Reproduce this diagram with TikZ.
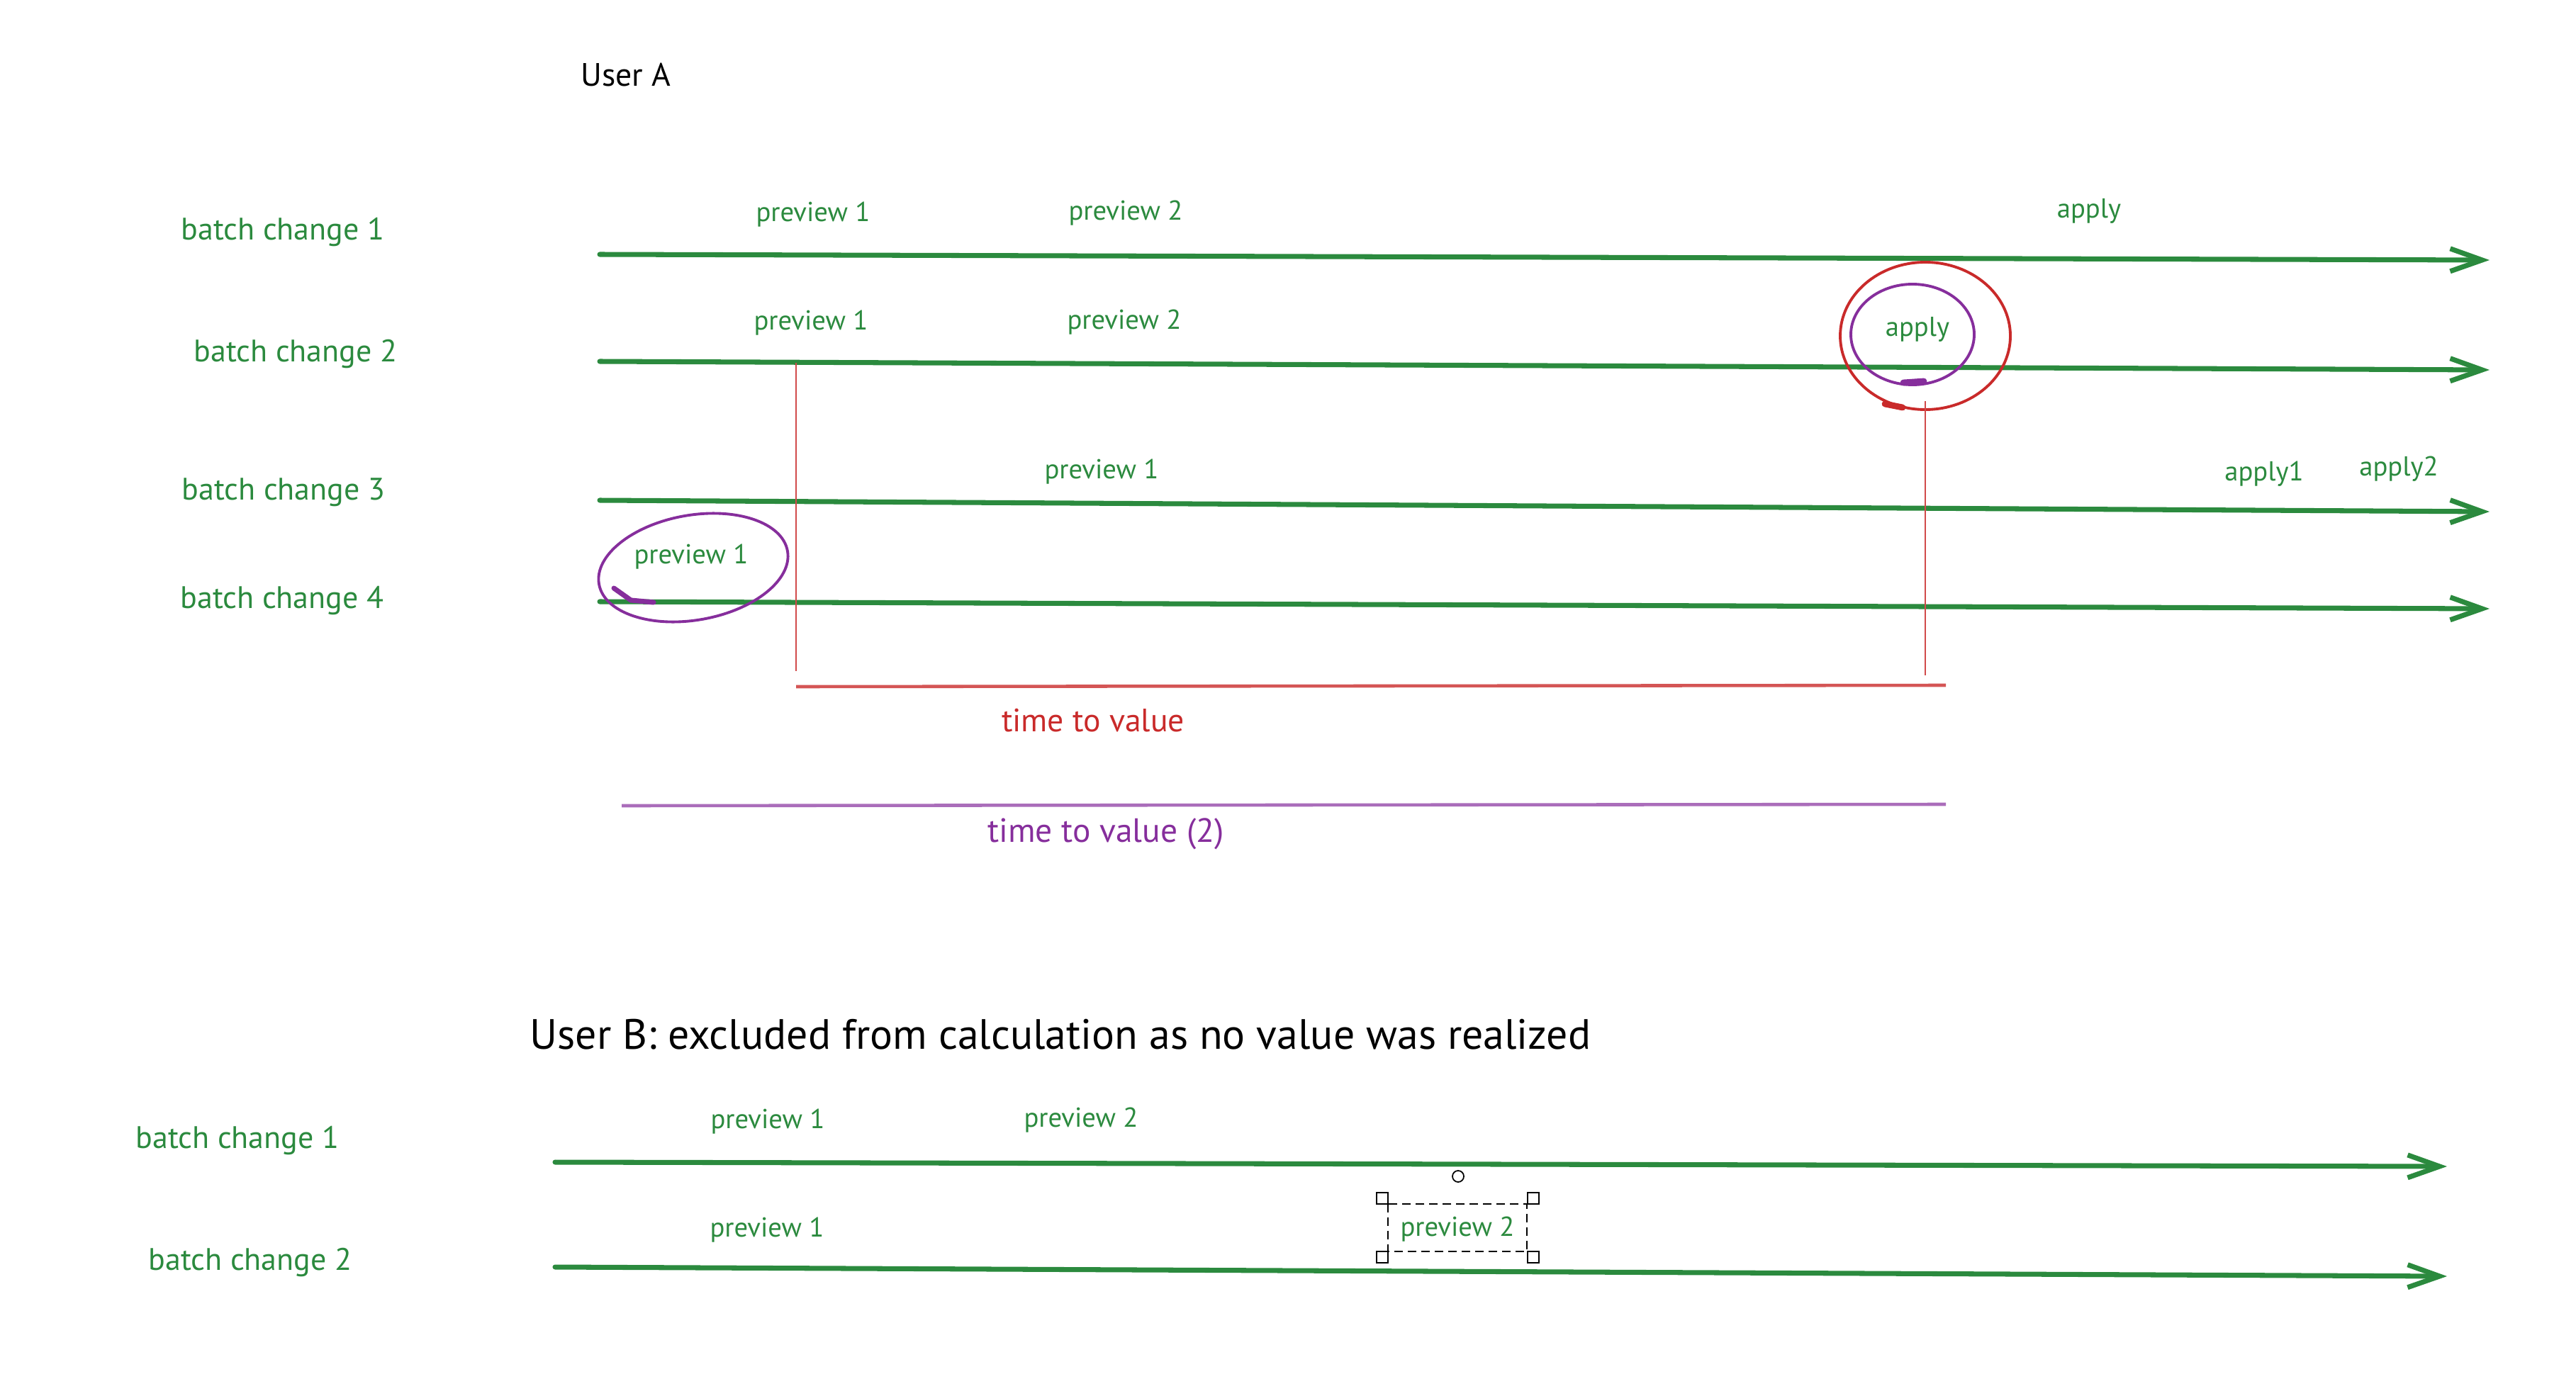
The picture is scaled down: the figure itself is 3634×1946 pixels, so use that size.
\documentclass[tikz,border=0pt]{standalone}
\usepackage{fontspec}
\setmainfont{PT Sans}
\usetikzlibrary{positioning, arrows.meta}
\definecolor{lanegreen}{HTML}{2B8A3E}
\definecolor{valred}{HTML}{C92A2A}
\definecolor{valpurple}{HTML}{862E9C}

\begin{document}
\begin{tikzpicture}[x=0.01cm, y=-0.01cm,
  lane/.style={draw=lanegreen, line width=2pt, line cap=round, -{Straight Barb[length=4.5mm, width=3.2mm]}},
  lanelabel/.style={text=lanegreen, font=\fontsize{12.5}{14}\selectfont},
  eventlabel/.style={text=lanegreen, font=\fontsize{11}{13}\selectfont},
  userlabel/.style={text=black, font=\fontsize{13}{15}\selectfont},
  ring/.style={line width=1.1pt},
  handle/.style={draw=black, fill=white, line width=0.5pt}]
  \useasboundingbox (0,0) rectangle (3634,1946);

  \node [userlabel] (userA) at (883,106) {User A};

  % user A lanes
  \foreach \n/\lx/\ly/\ys/\ye in {1/399/328/359/367, 2/417/500/510/522, 3/400/695/706/722, 4/398/848/849/859}
    {\node [lanelabel] (a\n) at (\lx,\ly) {batch change \n};
     \coordinate (a\n s) at (846,\ys);
     \coordinate (a\n e) at (3512,\ye);
     \draw [lane] (a\n s) -- (a\n e);}

  \node [eventlabel] (a1p1) at (1147,303) {preview 1};
  \node [eventlabel] (a1p2) at (1588,301) {preview 2};
  \node [eventlabel] (a1ap) at (2947,298) {apply};
  \node [eventlabel] (a2p1) at (1144,456) {preview 1};
  \node [eventlabel] (a2p2) at (1586,455) {preview 2};
  \node [eventlabel] (a2ap) at (2705,465) {apply};
  \node [eventlabel] (a3p1) at (1554,666) {preview 1};
  \node [eventlabel] (a3ap1) at (3194,669) {apply1};
  \node [eventlabel] (a3ap2) at (3384,662) {apply2};
  \node [eventlabel] (a4p1) at (975,786) {preview 1};

  % circles
  \draw [ring, valpurple] (978,801) ellipse [x radius=135, y radius=74, rotate=10];
  \draw [valpurple, line width=2pt, line cap=round] (866,830) -- (890,847) -- (922,850);
  \draw [ring, valpurple] (2698,472) ellipse [x radius=87, y radius=71];
  \draw [valpurple, line width=2.5pt, line cap=round] (2685,540) -- (2714,538);
  \draw [ring, valred] (2716,474) ellipse [x radius=120, y radius=104];
  \draw [valred, line width=2.5pt, line cap=round] (2659,570) -- (2684,575);

  % time to value
  \coordinate (ttvA) at (1123,512);
  \coordinate (ttvB) at (1123,947);
  \coordinate (ttvC) at (2716,566);
  \coordinate (ttvD) at (2716,953);
  \coordinate (ttvL) at (1123,969);
  \coordinate (ttvR) at (2745,967);
  \draw [valred!85, line width=0.5pt] (ttvA) -- (ttvB);
  \draw [valred!85, line width=0.5pt] (ttvC) -- (ttvD);
  \draw [valred!80, line width=1.3pt] (ttvL) -- (ttvR);
  \node [text=valred, font=\fontsize{13}{15}\selectfont] (ttv) at (1542,1017) {time to value};

  \coordinate (ttwL) at (877,1137);
  \coordinate (ttwR) at (2745,1135);
  \draw [valpurple!70, line width=1.3pt] (ttwL) -- (ttwR);
  \node [text=valpurple, font=\fontsize{13.5}{15}\selectfont] (ttw) at (1560,1177) {time to value (2)};

  % user B
  \node [userlabel, font=\fontsize{17}{19}\selectfont] (userB) at (1496,1460) {User B: excluded from calculation as no value was realized};

  \foreach \n/\lx/\ly/\ys/\ye in {1/335/1609/1640/1646, 2/353/1781/1788/1801}
    {\node [lanelabel] (b\n) at (\lx,\ly) {batch change \n};
     \coordinate (b\n s) at (783,\ys);
     \coordinate (b\n e) at (3452,\ye);
     \draw [lane] (b\n s) -- (b\n e);}

  \node [eventlabel] (b1p1) at (1083,1583) {preview 1};
  \node [eventlabel] (b1p2) at (1525,1581) {preview 2};
  \node [eventlabel] (b2p1) at (1082,1736) {preview 1};
  \node [eventlabel] (b2p2) at (2056,1735) {preview 2};

  % selection frame
  \draw [black, line width=0.6pt, dash pattern=on 3.4pt off 2pt] (1958,1699) rectangle (2154,1766);
  \foreach \hx/\hy in {1942/1683, 2155/1683, 1942/1766, 2155/1766}
    \draw [handle] (\hx,\hy) rectangle ++(16,16);
  \draw [handle] (2057,1660) circle [radius=8];
\end{tikzpicture}
\end{document}
